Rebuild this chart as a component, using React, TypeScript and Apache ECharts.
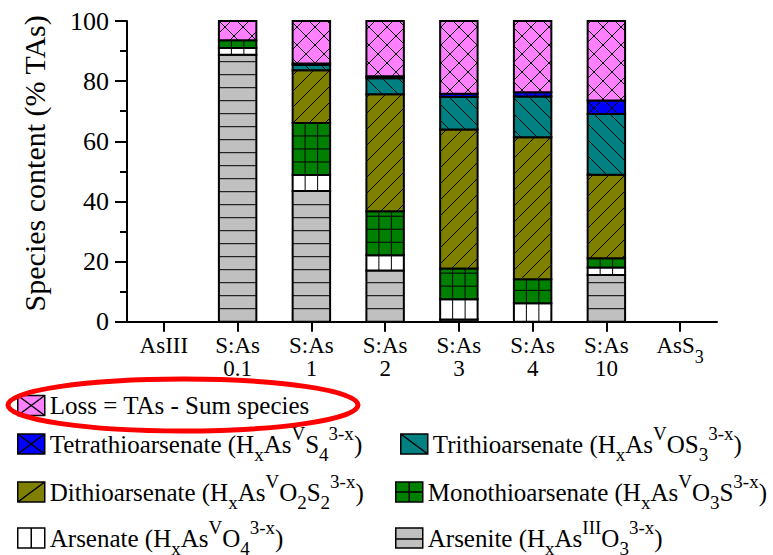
import React, { useEffect, useRef } from 'react';
import * as echarts from 'echarts';

const FONT = "'Liberation Serif', 'Times New Roman', 'DejaVu Serif', serif";

const categories = ['AsIII', 'S:As\n0.1', 'S:As\n1', 'S:As\n2', 'S:As\n3', 'S:As\n4', 'S:As\n10', 'AsS3'];

// Species content (% TAs), stacked bottom -> top
const arsenite = [null, 88.8, 43.5, 17.0, 0.7, 0, 15.5, null];
const arsenate = [null, 2.2, 5.3, 5.1, 6.8, 6.1, 2.5, null];
const monothio = [null, 2.6, 17.3, 14.6, 10.2, 8.0, 3.1, null];
const dithio = [null, 0, 17.5, 38.9, 46.2, 47.2, 27.8, null];
const trithio = [null, 0, 1.8, 5.4, 10.8, 13.6, 20.2, null];
const tetrathio = [null, 0, 0.5, 0.6, 1.1, 1.4, 4.5, null];
const loss = [null, 6.4, 14.1, 18.4, 24.2, 23.7, 26.4, null];

const yMin = 0;
const yMax = 100;
const yInterval = 20;

type Pattern = 'h' | 'v' | 'grid' | 'slash' | 'back' | 'cross';

const species = [
  {
    name: 'Arsenite', values: arsenite, color: '#C0C0C0', pattern: 'h' as Pattern,
    icon: 'path://M0,0H27V20H0Z M0,11H27',
    label: '{b|Arsenite (H}{sub|x}{b|As}{sup|III}{b|O}{sub|3}{sup|3-x}{b|)}',
    lx: 395, ly: 538,
  },
  {
    name: 'Arsenate', values: arsenate, color: '#FFFFFF', pattern: 'v' as Pattern,
    icon: 'path://M0,0H27V20H0Z M13.5,0V20',
    label: '{b|Arsenate (H}{sub|x}{b|As}{sup|V}{b|O}{sub|4}{sup|3-x}{b|)}',
    lx: 17, ly: 538,
  },
  {
    name: 'Monothioarsenate', values: monothio, color: '#008000', pattern: 'grid' as Pattern,
    icon: 'path://M0,0H27V20H0Z M13.5,0V20 M0,10H27',
    label: '{b|Monothioarsenate (H}{sub|x}{b|As}{sup|V}{b|O}{sub|3}{b|S}{sup|3-x}{b|)}',
    lx: 395, ly: 492,
  },
  {
    name: 'Dithioarsenate', values: dithio, color: '#808000', pattern: 'slash' as Pattern,
    icon: 'path://M0,0H27V20H0Z M0,20L27,0',
    label: '{b|Dithioarsenate (H}{sub|x}{b|As}{sup|V}{b|O}{sub|2}{b|S}{sub|2}{sup|3-x}{b|)}',
    lx: 17, ly: 492,
  },
  {
    name: 'Trithioarsenate', values: trithio, color: '#008080', pattern: 'back' as Pattern,
    icon: 'path://M0,0H27V20H0Z M0,0L27,20',
    label: '{b|Trithioarsenate (H}{sub|x}{b|As}{sup|V}{b|OS}{sub|3}{sup|3-x}{b|)}',
    lx: 400, ly: 444,
  },
  {
    name: 'Tetrathioarsenate', values: tetrathio, color: '#0000FF', pattern: 'cross' as Pattern,
    icon: 'path://M0,0H27V20H0Z M0,0L27,20 M0,20L27,0',
    label: '{b|Tetrathioarsenate (H}{sub|x}{b|As}{sup|V}{b|S}{sub|4}{sup|3-x}{b|)}',
    lx: 17, ly: 444,
  },
  {
    name: 'Loss', values: loss, color: '#FF80FF', pattern: 'cross' as Pattern,
    icon: 'path://M0,0H27V20H0Z M0,0L27,20 M0,20L27,0',
    label: '{b|Loss = TAs - Sum species}',
    lx: 17, ly: 413,
  },
];

function hatch(p: Pattern, x0: number, y0: number, x1: number, y1: number, bw: number) {
  const segs: number[][] = [];
  if (p === 'h' || p === 'grid') {
    for (let y = y1 - 13; y > y0 + 1; y -= 13) segs.push([x0, y, x1, y]);
  }
  if (p === 'v' || p === 'grid') {
    const step = bw / 3;
    for (let x = x0 + step; x < x1 - 1; x += step) segs.push([x, y0, x, y1]);
  }
  if (p === 'slash' || p === 'cross') {
    const s = p === 'cross' ? 18 : 16;
    for (let c = Math.floor((x0 + y0) / s) * s; c <= x1 + y1; c += s) {
      const xa = Math.max(x0, c - y1);
      const xb = Math.min(x1, c - y0);
      if (xb - xa > 0.5) segs.push([xa, c - xa, xb, c - xb]);
    }
  }
  if (p === 'back' || p === 'cross') {
    const s = p === 'cross' ? 18 : 16;
    for (let c = Math.floor((y0 - x1) / s) * s; c <= y1 - x0; c += s) {
      const xa = Math.max(x0, y0 - c);
      const xb = Math.min(x1, y1 - c);
      if (xb - xa > 0.5) segs.push([xa, xa + c, xb, xb + c]);
    }
  }
  return segs;
}

function makeRender(color: string, pattern: Pattern) {
  return (params: any, api: any) => {
    const xi = api.value(0);
    const b = api.value(1);
    const t = api.value(2);
    const pb = api.coord([xi, b]);
    const pt = api.coord([xi, t]);
    const bw = api.size([1, 0])[0] * 0.508;
    const x0 = pb[0] - bw / 2;
    const x1 = pb[0] + bw / 2;
    const y0 = pt[1];
    const y1 = pb[1];
    const children: any[] = [];
    children.push({
      type: 'rect',
      shape: { x: x0, y: y0, width: bw, height: y1 - y0 },
      style: { fill: color, stroke: null },
    });
    hatch(pattern, x0, y0, x1, y1, bw).forEach((l) => {
      children.push({
        type: 'line',
        shape: { x1: l[0], y1: l[1], x2: l[2], y2: l[3] },
        style: { stroke: '#000', lineWidth: 1 },
      });
    });
    children.push({
      type: 'rect',
      shape: { x: x0, y: y0, width: bw, height: y1 - y0 },
      style: { fill: 'none', stroke: '#000', lineWidth: 2 },
    });
    return { type: 'group', children };
  };
}

const richLegend = {
  b: { fontFamily: FONT, fontSize: 25, lineHeight: 40, color: '#000' },
  sub: { fontFamily: FONT, fontSize: 19, lineHeight: 12, verticalAlign: 'bottom', color: '#000' },
  sup: { fontFamily: FONT, fontSize: 19, lineHeight: 26, verticalAlign: 'top', color: '#000' },
};

export default function App() {
  const ref = useRef<HTMLDivElement>(null);
  useEffect(() => {
    if (!ref.current) return;
    const chart = echarts.init(ref.current, undefined, { renderer: 'svg' });

    const base = categories.map(() => 0);
    const series = species.map((s) => {
      const data: any[] = [];
      s.values.forEach((v, i) => {
        if (v === null || v === undefined) return;
        const b = base[i];
        base[i] = b + v;
        if (v > 0) data.push({ value: [i, b, b + v] });
      });
      return {
        type: 'custom',
        name: s.name,
        itemStyle: { color: s.color },
        encode: { x: 0, y: [1, 2] },
        renderItem: makeRender(s.color, s.pattern),
        data,
      };
    });

    const legends = species.map((s) => ({
      data: [{ name: s.name, icon: s.icon, itemStyle: { color: s.color, borderColor: '#000', borderWidth: 1.5 } }],
      left: s.lx,
      top: s.ly - 20,
      padding: 0,
      itemWidth: 27,
      itemHeight: 20,
      selectedMode: false,
      formatter: () => s.label,
      textStyle: { fontFamily: FONT, fontSize: 25, color: '#000', rich: richLegend },
    }));

    chart.setOption({
      animation: false,
      backgroundColor: '#fff',
      textStyle: { fontFamily: FONT },
      grid: { left: 127, right: 56, top: 21, bottom: 555 - 321.7, containLabel: false },
      xAxis: {
        type: 'category',
        data: categories,
        axisLine: { show: true, lineStyle: { color: '#000', width: 2 } },
        axisTick: { show: true, alignWithLabel: true, interval: 0, length: 10, lineStyle: { color: '#000', width: 2 } },
        axisLabel: {
          interval: 0,
          margin: 12,
          color: '#000',
          fontFamily: FONT,
          fontSize: 23,
          lineHeight: 23,
          formatter: (v: string) =>
            v === 'AsS3' ? '{n|AsS}{s|3}' : v.split('\n').map((p) => `{n|${p}}`).join('\n'),
          rich: {
            n: { fontFamily: FONT, fontSize: 23, lineHeight: 23, verticalAlign: 'top', color: '#000' },
            s: { fontFamily: FONT, fontSize: 18, lineHeight: 46, verticalAlign: 'middle', color: '#000' },
          },
        },
        splitLine: { show: false },
      },
      yAxis: {
        type: 'value',
        min: yMin,
        max: yMax,
        interval: yInterval,
        name: 'Species content (% TAs)',
        nameLocation: 'middle',
        nameGap: 78,
        nameTextStyle: { fontFamily: FONT, fontSize: 30, color: '#000', padding: [0, 0, 0, 16] },
        axisLine: { show: true, lineStyle: { color: '#000', width: 2 } },
        axisTick: { show: true, length: 12, lineStyle: { color: '#000', width: 2 } },
        minorTick: { show: true, splitNumber: 2, length: 7, lineStyle: { color: '#000', width: 2 } },
        axisLabel: { margin: 18, color: '#000', fontFamily: FONT, fontSize: 26 },
        splitLine: { show: false },
      },
      legend: legends,
      graphic: [
        {
          type: 'ellipse',
          shape: { cx: 183, cy: 405, rx: 175, ry: 26 },
          style: { fill: 'none', stroke: '#FF0000', lineWidth: 5 },
          z: 100,
        },
      ],
      series,
    });
    return () => chart.dispose();
  }, []);
  return <div ref={ref} style={{ position: 'absolute', left: 0, top: 0, width: 773, height: 555 }} />;
}
